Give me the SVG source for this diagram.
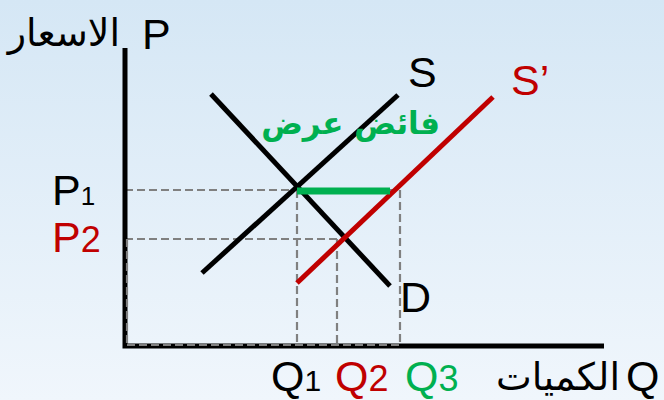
<svg xmlns="http://www.w3.org/2000/svg" width="664" height="400" viewBox="0 0 664 400">
<defs>
<linearGradient id="bg" x1="0" y1="0" x2="0" y2="1">
<stop offset="0" stop-color="#d5e7f5"/>
<stop offset="1" stop-color="#f0f6fc"/>
</linearGradient>
<style>
.lat{font-family:"Liberation Sans",Arial,sans-serif;font-size:43px}
.ar{font-family:"DejaVu Sans",sans-serif;font-size:38px}
.ar-b{font-family:"DejaVu Sans",sans-serif;font-size:31px;font-weight:bold}
.dash{stroke:#808080;stroke-width:2.2;stroke-dasharray:8,4;fill:none}
.blk{fill:#000}
.red{fill:#c00000}
.grn{fill:#00b050}
</style>
</defs>
<rect width="664" height="400" fill="url(#bg)"/>
<g id="connectors">
<g id="guides">
<line class="dash" x1="125" y1="190" x2="400" y2="190"/>
<line class="dash" x1="125" y1="239" x2="337" y2="239"/>
<line class="dash" x1="297" y1="190" x2="297" y2="346"/>
<line class="dash" x1="337" y1="239" x2="337" y2="346"/>
<line class="dash" x1="400" y1="190" x2="400" y2="346"/>
</g>
<g id="axes" stroke="#000" stroke-width="5" fill="none">
<polyline points="125,48 125,346 604,346"/>
</g>
<g id="axis-guides">
<line class="dash" x1="127" y1="239" x2="127" y2="345"/>
<line class="dash" x1="127" y1="345" x2="400" y2="345"/>
</g>
<line id="supply" x1="202" y1="273" x2="398" y2="95" stroke="#000" stroke-width="5"/>
<line id="demand" x1="211" y1="94" x2="390" y2="286" stroke="#000" stroke-width="5"/>
<line id="supply2" x1="297" y1="283" x2="493" y2="97" stroke="#c00000" stroke-width="5"/>
<line id="surplus" x1="297" y1="191" x2="390" y2="191" stroke="#00b050" stroke-width="7"/>
</g>
<g id="label-P"><text class="lat blk" x="142" y="49">P</text><text class="ar blk" x="120" y="46" text-anchor="end">الاسعار</text></g>
<g id="label-S"><text class="lat blk" x="408" y="87">S</text></g>
<g id="label-S2"><text class="lat red" x="511" y="95">S’</text></g>
<g id="label-D"><text class="lat blk" x="400" y="312">D</text></g>
<g id="label-surplus"><text class="ar-b grn" x="440" y="134" text-anchor="end">فائض عرض</text></g>
<g id="label-P1"><text class="lat blk" x="52" y="205">P<tspan font-size="26">1</tspan></text></g>
<g id="label-P2"><text class="lat red" x="52" y="252">P<tspan font-size="36">2</tspan></text></g>
<g id="label-Q1"><text class="lat blk" x="271" y="391">Q<tspan font-size="30">1</tspan></text></g>
<g id="label-Q2"><text class="lat red" x="335" y="391">Q<tspan font-size="36">2</tspan></text></g>
<g id="label-Q3"><text class="lat grn" x="405" y="391">Q<tspan font-size="36">3</tspan></text></g>
<g id="label-Q"><text class="lat blk" x="626" y="391">Q</text><text class="ar blk" x="620" y="390" text-anchor="end">الكميات</text></g>
</svg>
